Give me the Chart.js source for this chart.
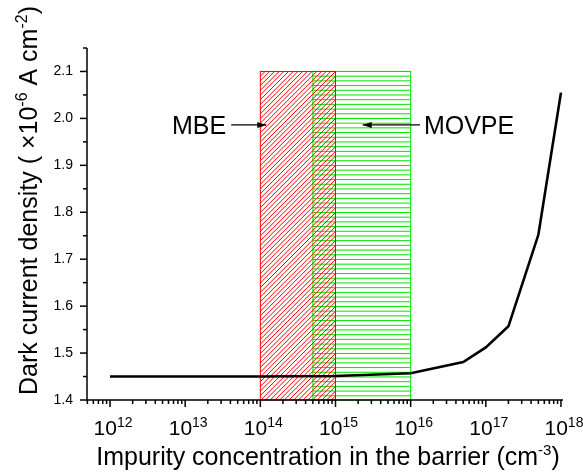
<!DOCTYPE html>
<html>
<head>
<meta charset="utf-8">
<script src="https://cdn.jsdelivr.net/npm/chart.js@4/dist/chart.umd.min.js"></script>
<style>
  body { margin: 0; background: #fff; }
  canvas { display: block; }
</style>
</head>
<body>
<canvas id="dark_chart" width="583" height="475"></canvas>
<script>
// DATA
const concentration = [1e12, 1e13, 1e14, 1e15, 1e16, 5e16, 1e17, 2e17, 5e17, 1e18];
const darkCurrent = [1.45, 1.45, 1.45, 1.451, 1.457, 1.481, 1.512, 1.557, 1.752, 2.055];
const xTickExponents = [12, 13, 14, 15, 16, 17, 18];
const yTickValues = [1.4, 1.5, 1.6, 1.7, 1.8, 1.9, 2.0, 2.1];
const yTickLabels = ["1.4", "1.5", "1.6", "1.7", "1.8", "1.9", "2.0", "2.1"];
const mbeRange = [1e14, 1e15];
const movpeRange = [5e14, 1e16];
const boxTop = 2.1;
// arrows: [text anchor x, line start x, arrow tip x, y]
const mbeArrow = [3.5e13, 4.1e13, 1.2e14, 1.986];
const movpeArrow = [1.5e16, 1.33e16, 2.3e15, 1.986];

const FONT = "'Liberation Sans', Arial, sans-serif";
const ctx = document.getElementById("dark_chart").getContext("2d");

// draw text made of pieces (for superscripts)
function drawPieces(c, pieces, x, y, align) {
  let total = 0;
  pieces.forEach(p => {
    c.font = p.size + "px " + FONT;
    p.w = c.measureText(p.t).width;
    total += p.w;
  });
  let cx = x;
  if (align === "center") cx = x - total / 2;
  if (align === "right") cx = x - total;
  c.textAlign = "left";
  c.textBaseline = "alphabetic";
  pieces.forEach(p => {
    c.font = p.size + "px " + FONT;
    c.fillText(p.t, cx, y - (p.up || 0));
    cx += p.w;
  });
}

function arrow(c, x1, x2, y) {
  c.strokeStyle = "#000";
  c.fillStyle = "#000";
  c.lineWidth = 1.2;
  c.beginPath();
  c.moveTo(x1, y);
  c.lineTo(x2, y);
  c.stroke();
  const dir = x2 > x1 ? 1 : -1;
  c.beginPath();
  c.moveTo(x2, y);
  c.lineTo(x2 - dir * 9, y - 3);
  c.lineTo(x2 - dir * 9, y + 3);
  c.closePath();
  c.fill();
}

const boxesPlugin = {
  id: "boxes",
  beforeDatasetsDraw(chart) {
    const c = chart.ctx, xs = chart.scales.x, ys = chart.scales.y;
    const top = ys.getPixelForValue(boxTop), bottom = ys.getPixelForValue(1.4);

    // MOVPE box, horizontal hatch
    let l = xs.getPixelForValue(movpeRange[0]), r = xs.getPixelForValue(movpeRange[1]);
    c.save();
    c.strokeStyle = "#00e600";
    c.lineWidth = 1;
    for (let y = top; y <= bottom; y += 4.7) {
      c.beginPath(); c.moveTo(l, y); c.lineTo(r, y); c.stroke();
    }
    c.strokeRect(l, top, r - l, bottom - top);
    c.restore();

    // MBE box, diagonal hatch
    l = xs.getPixelForValue(mbeRange[0]); r = xs.getPixelForValue(mbeRange[1]);
    c.save();
    c.beginPath(); c.rect(l, top, r - l, bottom - top); c.clip();
    c.strokeStyle = "#ff0000";
    c.lineWidth = 1;
    const h = bottom - top;
    for (let s = l - h; s < r; s += 4.7) {
      c.beginPath(); c.moveTo(s, bottom); c.lineTo(s + h, top); c.stroke();
    }
    c.restore();
    c.save();
    c.strokeStyle = "#ff0000";
    c.strokeRect(l, top, r - l, bottom - top);
    c.restore();
  },
  afterDraw(chart) {
    const c = chart.ctx, xs = chart.scales.x, ys = chart.scales.y;
    const area = chart.chartArea;
    c.save();
    c.strokeStyle = "#000";
    c.fillStyle = "#000";
    c.lineWidth = 1.5;

    // axis lines
    c.beginPath();
    c.moveTo(area.left, area.top);
    c.lineTo(area.left, area.bottom);
    c.lineTo(area.right, area.bottom);
    c.stroke();

    // x ticks
    for (let e = 11; e <= 18; e++) {
      for (let k = 1; k <= 9; k++) {
        const v = k * Math.pow(10, e);
        if (v < xs.min || v > xs.max) continue;
        const px = xs.getPixelForValue(v);
        const len = k === 1 ? 7 : 4;
        c.beginPath(); c.moveTo(px, area.bottom); c.lineTo(px, area.bottom + len); c.stroke();
      }
    }
    // y ticks
    for (let i = 0; i <= 15; i++) {
      const v = 1.4 + i * 0.05;
      const py = ys.getPixelForValue(v);
      const len = i % 2 === 0 ? 7 : 4;
      c.beginPath(); c.moveTo(area.left, py); c.lineTo(area.left - len, py); c.stroke();
    }

    // y tick labels
    c.font = "14px " + FONT;
    c.textAlign = "right";
    c.textBaseline = "middle";
    yTickValues.forEach((v, i) => {
      c.fillText(yTickLabels[i], area.left - 14, ys.getPixelForValue(v));
    });

    // x tick labels
    xTickExponents.forEach(e => {
      const px = xs.getPixelForValue(Math.pow(10, e));
      drawPieces(c, [{t: "10", size: 21}, {t: String(e), size: 14, up: 8}], px + 3, 435, "center");
    });

    // axis titles
    drawPieces(c, [
      {t: "Impurity concentration in the barrier (cm", size: 25},
      {t: "-3", size: 15, up: 10},
      {t: ")", size: 25}
    ], 328, 465, "center");

    c.save();
    c.translate(37, 395);
    c.rotate(-Math.PI / 2);
    drawPieces(c, [
      {t: "Dark current density ( \u00d710", size: 25},
      {t: "-6", size: 16, up: 10},
      {t: " A cm", size: 25},
      {t: "-2", size: 16, up: 10},
      {t: ")", size: 25}
    ], 0, 0, "left");
    c.restore();

    // annotations
    let ay = ys.getPixelForValue(mbeArrow[3]);
    drawPieces(c, [{t: "MBE", size: 25}], xs.getPixelForValue(mbeArrow[0]), ay + 9, "right");
    arrow(c, xs.getPixelForValue(mbeArrow[1]), xs.getPixelForValue(mbeArrow[2]), ay);
    ay = ys.getPixelForValue(movpeArrow[3]);
    drawPieces(c, [{t: "MOVPE", size: 25}], xs.getPixelForValue(movpeArrow[0]), ay + 9, "left");
    arrow(c, xs.getPixelForValue(movpeArrow[1]), xs.getPixelForValue(movpeArrow[2]), ay);
    c.restore();
  }
};

new Chart(ctx, {
  type: "line",
  data: {
    datasets: [{
      data: concentration.map((x, i) => ({x: x, y: darkCurrent[i]})),
      borderColor: "#000",
      borderWidth: 2.6,
      pointRadius: 0,
      tension: 0,
      fill: false
    }]
  },
  options: {
    responsive: false,
    animation: false,
    layout: { padding: { left: 87, top: 48, right: 20, bottom: 75 } },
    scales: {
      x: { type: "logarithmic", min: 4.94e11, max: 1.064e18, display: false },
      y: { type: "linear", min: 1.4, max: 2.15, display: false }
    },
    plugins: { legend: { display: false }, tooltip: { enabled: false } }
  },
  plugins: [boxesPlugin]
});
</script>
</body>
</html>
